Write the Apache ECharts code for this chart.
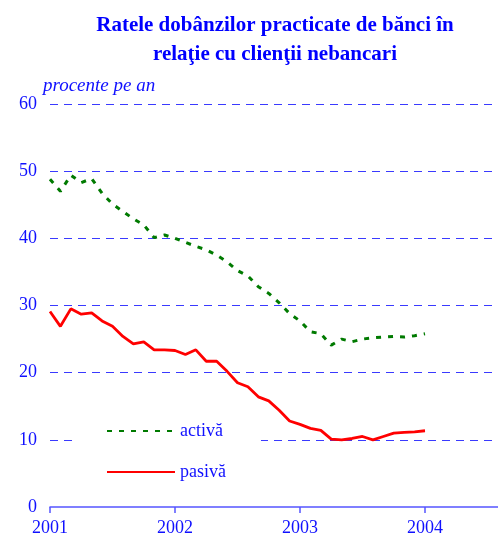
<!DOCTYPE html>
<html>
<head>
<meta charset="utf-8">
<script src="https://cdn.jsdelivr.net/npm/echarts@6/dist/echarts.min.js"></script>
<style>
  html, body { margin: 0; padding: 0; background: #fff; }
  #chart { width: 498px; height: 539px; }
</style>
</head>
<body>
<div id="chart"></div>
<script>
// monthly data, Jan 2001 .. Jan 2004
const startYear = 2001
const yearTicks = [2001, 2002, 2003, 2004]
const activa = [
  48.8, 47.0, 49.4, 48.3, 48.9, 46.7, 45.1, 44.0, 42.9, 42.0, 40.1, 40.5,
  40.0, 39.4, 38.8, 38.3, 37.5, 36.5, 35.2, 34.4, 32.8, 31.8, 30.4, 28.8,
  27.7, 26.1, 25.8, 24.1, 25.0, 24.6, 25.0, 25.2, 25.3, 25.4, 25.3, 25.5,
  25.8
]
const pasiva = [
  29.1, 26.9, 29.5, 28.7, 28.9, 27.7, 26.9, 25.4, 24.3, 24.6, 23.4, 23.4,
  23.3, 22.7, 23.4, 21.7, 21.7, 20.2, 18.5, 17.9, 16.4, 15.8, 14.4, 12.8,
  12.3, 11.7, 11.4, 10.1, 10.0, 10.2, 10.5, 10.0, 10.5, 11.0, 11.1, 11.2,
  11.35
]

const blue = '#1010ff'
const serif = '"Liberation Serif", "DejaVu Serif", serif'

function toPoints(values) {
  return values.map((v, i) => [startYear + i / 12, v])
}

const myChart = echarts.init(document.getElementById('chart'))

const option = {
  animation: false,
  backgroundColor: '#fff',
  graphic: [
    {
      type: 'text',
      style: {
        x: 275, y: 26, text: 'Ratele dobânzilor practicate de bănci în',
        font: 'bold 21px ' + serif, fill: '#0000ff',
        textAlign: 'center', textVerticalAlign: 'middle'
      }
    },
    {
      type: 'text',
      style: {
        x: 275, y: 55, text: 'relaţie cu clienţii nebancari',
        font: 'bold 21px ' + serif, fill: '#0000ff',
        textAlign: 'center', textVerticalAlign: 'middle'
      }
    },
    {
      type: 'text',
      style: {
        x: 43, y: 86, text: 'procente pe an',
        font: 'italic 19px ' + serif, fill: blue,
        textAlign: 'left', textVerticalAlign: 'middle'
      }
    }
  ],
  grid: {
    left: 50,
    right: 0,
    top: 104,
    bottom: 32
  },
  legend: {
    orient: 'vertical',
    left: 73,
    top: 405,
    padding: [17, 35, 15, 33],
    backgroundColor: '#fff',
    itemWidth: 68,
    itemHeight: 14,
    itemGap: 23,
    itemStyle: { opacity: 0 },
    textStyle: { color: blue, fontFamily: serif, fontSize: 18 },
    data: ['activă', 'pasivă']
  },
  xAxis: {
    type: 'value',
    min: 2001,
    max: 2001 + 448 / 125,
    interval: 1,
    splitLine: { show: false },
    axisLine: { lineStyle: { color: '#5555ff', width: 1.5 } },
    axisTick: {
      customValues: yearTicks,
      length: 6,
      lineStyle: { color: '#5555ff', width: 1.5 }
    },
    axisLabel: {
      customValues: yearTicks,
      formatter: v => String(v),
      margin: 12,
      color: blue,
      fontFamily: serif,
      fontSize: 18
    }
  },
  yAxis: {
    type: 'value',
    min: 0,
    max: 60,
    interval: 10,
    axisLine: { show: false },
    axisTick: { show: false },
    axisLabel: { margin: 13, color: blue, fontFamily: serif, fontSize: 18 },
    splitLine: {
      showMinLine: false,
      lineStyle: { color: '#3a3aff', width: 1, type: [8, 6] }
    }
  },
  series: [
    {
      name: 'activă',
      type: 'line',
      symbol: 'none',
      data: toPoints(activa),
      lineStyle: { color: '#007a00', width: 3, type: [5, 7] },
      itemStyle: { color: '#007a00' }
    },
    {
      name: 'pasivă',
      type: 'line',
      symbol: 'none',
      data: toPoints(pasiva),
      lineStyle: { color: '#ff0000', width: 2.8 },
      itemStyle: { color: '#ff0000' }
    }
  ]
}

myChart.setOption(option)
</script>
</body>
</html>
